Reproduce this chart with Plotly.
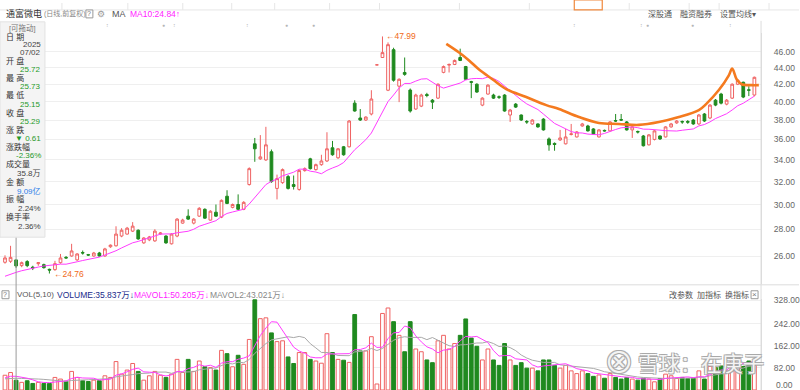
import numpy as np
import pandas as pd
import plotly.graph_objects as go

# ---------------- data ----------------
opens = [25.55,25.62,25.72,25.31,25.60,25.20,25.45,25.38,25.05,25.03,25.52,25.90,26.00,25.72,26.25,26.10,26.00,26.22,26.00,26.68,
         26.75,27.49,27.64,27.87,27.94,26.97,27.20,27.12,27.65,27.49,26.90,27.49,28.50,29.06,28.50,29.06,29.62,28.74,29.38,28.98,
         30.72,29.78,30.02,29.62,31.74,35.56,34.10,34.00,34.78,31.40,31.91,32.45,31.74,31.31,33.00,34.10,33.09,33.55,33.90,35.17,
         34.20,35.27,35.27,39.84,38.22,38.00,38.65,44.33,45.25,41.30,46.25,41.77,43.40,41.32,39.19,39.51,40.80,40.17,40.40,43.41,
         44.30,44.38,45.25,44.12,42.30,42.00,39.62,40.86,40.75,40.55,40.75,38.54,39.73,38.54,37.85,37.59,37.59,38.10,36.05,35.60,
         35.95,35.56,36.50,36.25,37.38,37.38,37.07,36.25,36.92,36.87,37.95,38.05,37.80,36.97,36.80,36.35,35.46,36.00,36.35,36.25,
         37.28,37.70,37.85,37.85,38.00,37.59,38.65,38.22,40.17,40.86,39.73,40.40,42.00,42.23,41.35,40.75]
highs = [26.05,26.75,25.73,25.60,25.70,25.30,25.55,25.45,25.10,25.65,26.15,26.00,26.90,26.20,26.40,26.15,26.30,26.30,26.60,26.85,
         28.25,28.10,28.20,28.58,28.00,27.40,27.50,28.02,27.80,27.55,27.70,28.90,28.85,29.62,28.90,29.80,29.70,29.55,30.02,30.45,
         31.24,30.10,30.88,30.30,33.30,36.15,36.44,37.29,35.00,32.63,33.20,32.60,32.55,33.10,33.30,34.20,33.65,34.49,36.73,35.85,
         35.15,35.35,38.00,40.16,39.19,38.40,41.30,44.33,47.99,47.20,46.50,42.70,45.25,41.50,40.90,40.90,41.00,40.30,42.10,44.25,
         44.50,45.00,46.38,44.20,42.40,42.10,40.50,42.00,40.90,40.70,40.85,39.20,39.85,38.60,38.00,38.10,37.65,38.20,36.20,35.70,
         36.97,37.07,37.59,36.85,37.70,37.50,37.15,37.05,37.00,37.90,38.65,38.65,37.90,37.35,36.90,36.45,36.55,36.95,36.40,37.35,
         37.70,38.00,37.95,38.00,38.10,38.65,38.75,39.73,40.30,41.00,40.30,42.10,42.60,42.30,41.77,42.90]
lows = [25.45,25.50,25.15,25.20,25.20,25.00,25.30,25.10,24.76,24.95,25.45,25.80,25.95,25.65,26.10,26.00,25.95,25.95,25.95,26.60,
        26.70,27.40,27.60,27.80,27.20,26.90,27.10,27.05,27.60,26.90,26.85,27.40,28.45,28.75,28.40,29.00,28.85,28.70,29.00,28.90,
        30.05,29.70,29.55,29.55,31.65,33.82,34.00,33.90,31.90,30.45,31.80,31.30,31.30,31.20,32.90,33.10,33.00,33.45,33.80,34.40,
        34.10,34.40,35.20,38.90,37.90,37.90,38.50,44.33,45.20,41.20,42.30,39.95,43.00,38.80,39.10,39.40,40.50,39.19,40.30,43.30,
        43.40,44.30,44.80,42.50,40.40,41.00,39.50,40.80,40.30,40.30,38.90,37.80,39.30,37.90,37.60,37.50,37.20,36.90,34.88,34.88,
        35.85,35.50,36.40,36.20,37.30,36.80,36.50,36.20,36.80,36.80,37.80,37.90,36.90,36.15,36.60,35.30,35.40,35.90,35.95,36.20,
        37.20,37.60,37.60,37.60,37.50,37.50,37.80,38.10,39.50,39.70,39.60,40.30,41.90,40.40,40.63,40.60]
closes = [25.86,25.90,25.29,25.52,25.31,25.15,25.52,25.17,25.00,25.45,25.86,25.86,26.37,26.15,26.22,26.07,26.22,26.00,26.52,26.80,
          27.64,27.94,28.10,28.26,27.27,27.34,27.42,27.87,27.72,26.97,27.64,28.82,28.74,28.82,28.82,29.70,28.90,29.46,29.06,30.37,
          30.11,30.02,29.62,30.20,33.18,35.07,34.29,35.46,32.00,32.27,33.09,31.40,31.57,33.00,33.18,33.18,33.55,33.90,35.07,34.49,
          35.07,34.49,37.90,38.97,38.00,38.32,40.30,44.33,45.87,46.90,42.47,42.58,43.17,38.97,40.75,40.75,40.70,39.95,42.00,44.12,
          44.38,44.88,44.88,42.58,42.23,41.09,40.40,41.89,40.40,40.50,38.97,39.08,39.40,38.00,37.80,38.00,37.28,36.97,35.46,35.50,
          36.15,36.25,36.56,36.76,37.59,36.87,36.56,36.97,36.87,37.80,37.90,38.00,36.97,37.28,36.76,35.37,36.46,36.87,36.05,37.28,
          37.59,37.90,37.80,37.78,37.59,38.54,37.90,39.62,39.62,39.84,40.17,42.00,42.47,40.52,41.30,42.82]
volumes = [54,64,35.8,28,34,24,28,24,24,46,40,32,68,46,34,31,36,34,52,46,
           104,58,73,97,68,36,52,68,54,46,58,112,64,112,68,106,85,82,73,145,
           133,85,127,94,185,330,261,264,209,177,180,121,97,137,137,112,106,98,206,137,
           112,109,101,276,143,143,195,22,280,300,250,200,140,250,150,140,110,100,180,200,
           150,170,200,260,190,160,110,150,110,90,170,110,90,100,80,80,70,110,110,90,
           80,90,70,60,70,60,50,55,43,60,46,40,46,40,36,43,40,30,42,58,
           52,42,46,42,43,70,40,86,82,88,70,115,125,86,106,91]
prior_closes = [24.30,24.20,24.40,24.30,24.50,24.60,24.40,24.50,24.65]
prior_volumes = [40,38,36,34,38,35,36.2,45,52]
# hand-drawn trend curve (candle index, price)
curve_idx = [79.5,81.8,83.6,85.4,87.8,90.3,93.9,97.5,99.8,103.4,107.0,110.6,114.2,117.8,121.4,125.0,126.3,128.6,130.4,131.0,131.8,132.7,134.5,135.8]
curve_px = [47.0,45.88,44.88,43.76,42.59,41.43,40.52,39.62,39.19,38.32,37.69,37.59,37.49,37.79,38.32,39.08,39.73,41.32,43.06,43.88,42.59,42.0,41.89,41.89]
price_ticks = [26,28,30,32,34,36,38,40,42,44,46]
vol_ticks = [82,162,242,328]

n = len(closes)
xs = list(range(n))
ma10 = pd.Series(prior_closes + closes).rolling(10).mean().iloc[len(prior_closes):].tolist()
vser = pd.Series(prior_volumes + volumes)
mavol5 = vser.rolling(5).mean().iloc[len(prior_volumes):].tolist()
mavol10 = vser.rolling(10).mean().iloc[len(prior_volumes):].tolist()

UP = '#ef6262'
DN = '#1f8a1f'
W, H = 800, 390
XR = 762 / W

def px(x):
    return x / W

def py(y):
    return 1 - y / H

fig = go.Figure()
fig.add_trace(go.Candlestick(
    x=xs, open=opens, high=highs, low=lows, close=closes,
    increasing=dict(line=dict(color=UP, width=1), fillcolor='white'),
    decreasing=dict(line=dict(color=DN, width=1), fillcolor=DN),
    whiskerwidth=0, xaxis='x', yaxis='y', hoverinfo='skip', showlegend=False))
fig.add_trace(go.Scatter(x=xs, y=ma10, mode='lines', line=dict(color='#ff3cff', width=1),
                         xaxis='x', yaxis='y', hoverinfo='skip', showlegend=False))
fig.add_trace(go.Scatter(x=curve_idx, y=curve_px, mode='lines', line=dict(color='#f47a1f', width=2.6, shape='spline'),
                         xaxis='x', yaxis='y', hoverinfo='skip', showlegend=False))

up = [c >= o for o, c in zip(opens, closes)]
fig.add_trace(go.Bar(x=xs, y=volumes, width=0.68,
                     marker=dict(color=['white' if u else DN for u in up],
                                 line=dict(color=[UP if u else DN for u in up], width=1)),
                     xaxis='x2', yaxis='y2', hoverinfo='skip', showlegend=False))
fig.add_trace(go.Scatter(x=xs, y=mavol10, mode='lines', line=dict(color='#a8a8a8', width=1),
                         xaxis='x2', yaxis='y2', hoverinfo='skip', showlegend=False))
fig.add_trace(go.Scatter(x=xs, y=mavol5, mode='lines', line=dict(color='#ff3cff', width=1),
                         xaxis='x2', yaxis='y2', hoverinfo='skip', showlegend=False))

xr = [-0.9, 136.2]
FONT = 'Liberation Sans, Noto Sans CJK SC, sans-serif'
fig.update_layout(
    width=W, height=H, margin=dict(l=0, r=0, t=0, b=0),
    paper_bgcolor='white', plot_bgcolor='white',
    font=dict(family=FONT, size=8, color='#555'),
    bargap=0.3,
    xaxis=dict(domain=[0, XR], range=xr, showticklabels=False, showgrid=False, zeroline=False,
               rangeslider=dict(visible=False), anchor='y'),
    xaxis2=dict(domain=[0, XR], range=xr, showticklabels=False, showgrid=False, zeroline=False,
                matches='x', anchor='y2'),
    yaxis=dict(domain=[py(283), py(30)], type='log',
               range=[np.log10(46 * np.exp((49 - 283) / 361)), np.log10(46 * np.exp((49 - 30) / 361))],
               side='right', tickvals=price_ticks, ticktext=['%.2f' % v for v in price_ticks],
               tickfont=dict(size=8.5, color='#666'), ticklabelstandoff=10,
               showgrid=True, gridcolor='#efefef', gridwidth=1, zeroline=False,
               showline=True, linecolor='#dcdcdc', anchor='x'),
    yaxis2=dict(domain=[0, py(298)], range=[0, 334], side='right',
                tickvals=vol_ticks, ticktext=['%.2f' % v for v in vol_ticks],
                tickfont=dict(size=8.5, color='#666'), ticklabelstandoff=10,
                showgrid=True, gridcolor='#efefef', zeroline=False,
                showline=True, linecolor='#dcdcdc', anchor='x2'),
)

shapes = []
# top tab strip
shapes.append(dict(type='line', xref='paper', yref='paper', x0=0, x1=1, y0=py(7), y1=py(7), line=dict(color='#e6e6e6', width=1)))
for tx in [62, 128, 183, 232, 275, 330, 380, 460, 530, 630, 690, 720, 770]:
    shapes.append(dict(type='line', xref='paper', yref='paper', x0=px(tx), x1=px(tx), y0=py(0), y1=py(7), line=dict(color='#e6e6e6', width=1)))
shapes.append(dict(type='rect', xref='paper', yref='paper', x0=px(575), x1=px(603), y0=py(7), y1=py(-3), line=dict(color='#f0883c', width=1.2)))
# panel separators
shapes.append(dict(type='line', xref='paper', yref='paper', x0=0, x1=1, y0=py(284), y1=py(284), line=dict(color='#dddddd', width=1)))
shapes.append(dict(type='line', xref='paper', yref='paper', x0=XR, x1=XR, y0=0, y1=py(18), line=dict(color='#dcdcdc', width=1)))
# crosshair
shapes.append(dict(type='line', xref='x', yref='paper', x0=2, x1=2, y0=0, y1=py(236), line=dict(color='#9a9a9a', width=1)))
# info panel
shapes.append(dict(type='rect', xref='paper', yref='paper', x0=0, x1=px(45), y0=py(236), y1=py(19),
                   fillcolor='#f4f4f4', line=dict(color='#e2e2e2', width=1), layer='above'))
# ? boxes
shapes.append(dict(type='rect', xref='paper', yref='paper', x0=px(86), x1=px(93), y0=py(15), y1=py(7),
                   fillcolor='white', line=dict(color='#999', width=1)))
shapes.append(dict(type='rect', xref='paper', yref='paper', x0=px(2), x1=px(9), y0=py(298), y1=py(290),
                   fillcolor='white', line=dict(color='#999', width=1)))
shapes.append(dict(type='rect', xref='paper', yref='paper', x0=px(752), x1=px(759), y0=py(298), y1=py(290),
                   fillcolor='white', line=dict(color='#999', width=1)))
fig.update_layout(shapes=shapes)

ann = []

def txt(x, y, s, color='#555', size=8, anchor='left', shadow=None):
    f = dict(size=size, color=color, family=FONT)
    if shadow:
        f['shadow'] = shadow
    ann.append(dict(xref='paper', yref='paper', x=px(x), y=py(y), text=s, showarrow=False,
                    xanchor=anchor, yanchor='middle', font=f))

# header
txt(4, 11, '通富微电', '#333', 9)
txt(42, 11, '(日线,前复权)', '#888', 7)
txt(89.5, 11, '?', '#777', 7, 'center')
txt(101, 11, '⚙', '#999', 9, 'center')
txt(110, 11, 'MA', '#555', 9)
txt(128, 11, 'MA10:24.84↑', '#ff22ff', 8.5)
txt(647, 11, '深股通', '#555', 8)
txt(679, 11, '融资融券', '#555', 8)
txt(719, 11, '设置均线▾', '#555', 8)
# event markers
for mx, m in [(108, '↕'), (164, '●'), (175, '↕'), (248, '↕'), (287, '●'), (314, '●'), (575, '↕'), (642, '↕'), (648, '●'), (693, '●'), (731, '↕')]:
    txt(mx, 22, m, '#b5b5b5', 5, 'center')
# info panel
txt(23, 25.5, '[可拖动]', '#777', 7.5, 'center')
rows = [('日 期', None), (None, ('2025', '#444')), (None, ('07/02', '#444')),
        ('开 盘', None), (None, ('25.72', '#1f9a2a')), ('最 高', None), (None, ('25.73', '#1f9a2a')),
        ('最 低', None), (None, ('25.15', '#1f9a2a')), ('收 盘', None), (None, ('25.29', '#1f9a2a')),
        ('涨 跌', None), (None, ('▼ 0.61', '#1f9a2a')), ('涨跌幅', None), (None, ('-2.36%', '#1f9a2a')),
        ('成交量', None), (None, ('35.8万', '#444')), ('金 额', None), (None, ('9.09亿', '#2b7de9')),
        ('振 幅', None), (None, ('2.24%', '#444')), ('换手率', None), (None, ('2.36%', '#444'))]
ys = [35, 42, 50, 58, 67, 76, 84, 93, 102, 111, 119, 128, 137, 145, 154, 162, 172, 180, 189, 198, 207, 216, 225]
for (lab, val), yy in zip(rows, ys):
    if lab:
        txt(4, yy, lab, '#333', 8)
    else:
        txt(43, yy, val[0], val[1], 8, 'right')

# price labels for extremes
ann.append(dict(xref='x', yref='y', x=68.3, y=np.log10(47.99), text='←47.99', showarrow=False, xanchor='left',
                yanchor='middle', font=dict(size=8.5, color='#f06a20', family=FONT)))
ann.append(dict(xref='x', yref='y', x=8.5, y=np.log10(24.76), text='←24.76', showarrow=False, xanchor='left',
                yanchor='middle', font=dict(size=8.5, color='#f06a20', family=FONT)))

# volume header
txt(5.5, 294, '?', '#777', 7, 'center')
txt(15, 294, 'VOL(5,10)', '#555', 8)
txt(55, 294, 'VOLUME:35.837万↓', '#1a2a8a', 8.5)
txt(132, 294, 'MAVOL1:50.205万↓', '#ff22ff', 8.5)
txt(208, 294, 'MAVOL2:43.021万↓', '#888', 8.5)
txt(668, 294, '改参数', '#555', 8)
txt(696, 294, '加指标', '#555', 8)
txt(724, 294, '换指标', '#555', 8)
txt(755.5, 294, '×', '#777', 8, 'center')
txt(775, 385, '0.00', '#666', 8.5, 'left')
# watermark
WM_SH = '1px 1px 0 #a8a8a8, -1px -1px 0 #a8a8a8, 1px -1px 0 #a8a8a8, -1px 1px 0 #a8a8a8'
txt(603, 362, '⊗', 'rgba(255,255,255,0.9)', 30, 'left', WM_SH)
txt(637, 363, '雪球：在庚子', 'rgba(255,255,255,0.9)', 21, 'left', WM_SH)
fig.update_layout(annotations=ann)

fig.write_html('out.html', config={'displayModeBar': False},
               post_script="document.body.style.margin='0';document.body.style.overflow='hidden';")
